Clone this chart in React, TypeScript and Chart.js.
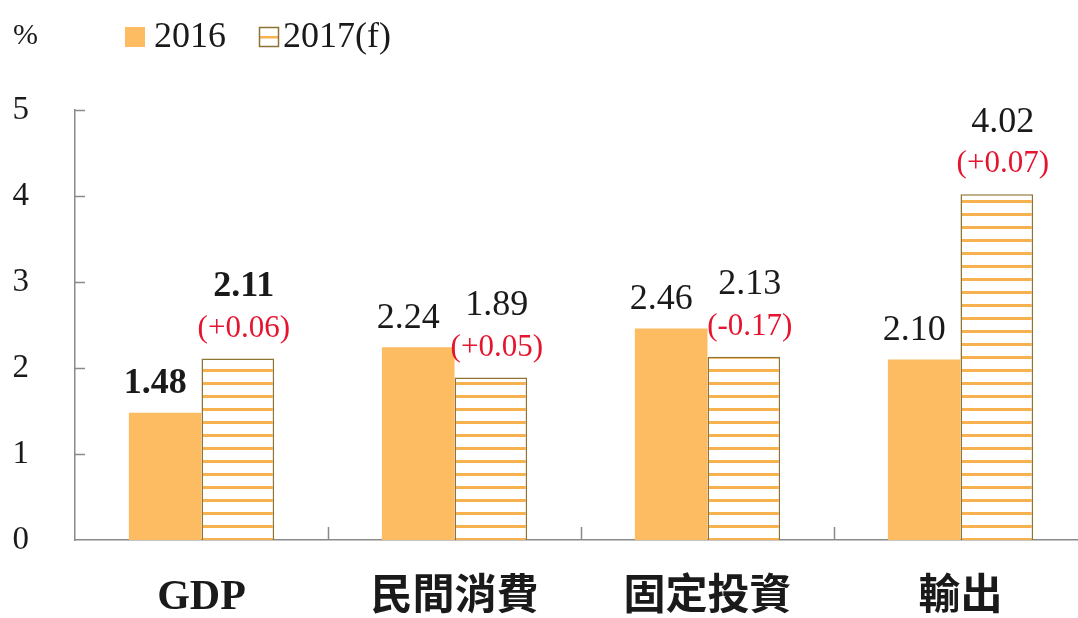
import React, { useEffect, useRef } from "react";
import { Chart, registerables } from "chart.js";
Chart.register(...registerables);

const categories = ["GDP", "民間消費", "固定投資", "輸出"];
const series2016 = [1.48, 2.24, 2.46, 2.1];
const series2017f = [2.11, 1.89, 2.13, 4.02];
const revisions2017 = ["+0.06", "+0.05", "-0.17", "+0.07"];
const seriesLabels = ["2016", "2017(f)"];
const yTicks = [0, 1, 2, 3, 4, 5];
const unitLabel = "%";
const boldCategory = "GDP";

const ORANGE = "#FDBB62";
const HATCH_LINE = "#F7B24F";
const HATCH_BORDER = "#8E7434";
const RED = "#E5142F";
const TEXT = "#1A1A1A";
const AXIS = "#8A8A8A";
const SERIF = "'Liberation Serif', 'Times New Roman', serif";

function makeHatch(ctx: CanvasRenderingContext2D) {
  const c = document.createElement("canvas");
  c.width = 8;
  c.height = 13;
  const g = c.getContext("2d")!;
  g.fillStyle = "#FFFFFF";
  g.fillRect(0, 0, 8, 13);
  g.fillStyle = HATCH_LINE;
  g.fillRect(0, 5, 8, 3);
  return ctx.createPattern(c, "repeat")!;
}

const decorPlugin = {
  id: "decor",
  afterDraw(chart: any) {
    const { ctx, chartArea, scales } = chart;
    const x = scales.x;
    const y = scales.y;
    ctx.save();
    ctx.strokeStyle = AXIS;
    ctx.lineWidth = 1.5;
    yTicks.forEach((v) => {
      if (v === 0) return;
      const py = Math.round(y.getPixelForValue(v)) + 0.5;
      ctx.beginPath();
      ctx.moveTo(chartArea.left, py);
      ctx.lineTo(chartArea.left + 10, py);
      ctx.stroke();
    });
    const step = x.getPixelForValue(1) - x.getPixelForValue(0);
    for (let i = 1; i < categories.length; i++) {
      const px = Math.round(x.getPixelForValue(i) - step / 2) + 0.5;
      ctx.beginPath();
      ctx.moveTo(px, chartArea.bottom);
      ctx.lineTo(px, chartArea.bottom - 13);
      ctx.stroke();
    }

    ctx.fillStyle = TEXT;
    ctx.font = `30px ${SERIF}`;
    ctx.textBaseline = "middle";
    ctx.textAlign = "left";
    ctx.fillText(unitLabel, 13, 36);

    const ds = chart.data.datasets;
    const boxY = 27;
    const box = 20;
    ctx.fillStyle = ORANGE;
    ctx.fillRect(125, boxY, box, box);
    ctx.fillStyle = TEXT;
    ctx.font = `36px ${SERIF}`;
    ctx.fillText(ds[0].label, 154, boxY + box / 2 + 1);
    ctx.fillStyle = "#FFFFFF";
    ctx.fillRect(259, boxY, box, box);
    ctx.fillStyle = HATCH_LINE;
    ctx.fillRect(259, boxY + box / 2 - 1, box, 2.5);
    ctx.strokeStyle = HATCH_BORDER;
    ctx.lineWidth = 1.5;
    ctx.strokeRect(259.5, boxY + 0.5, box - 1, box - 1);
    ctx.fillStyle = TEXT;
    ctx.fillText(ds[1].label, 283, boxY + box / 2 + 1);
    ctx.restore();
  },
  afterDatasetsDraw(chart: any) {
    const { ctx } = chart;
    ctx.save();
    ctx.textAlign = "center";
    ctx.textBaseline = "middle";
    const m0 = chart.getDatasetMeta(0);
    const m1 = chart.getDatasetMeta(1);
    categories.forEach((cat, i) => {
      const bold = cat === boldCategory ? "bold " : "";
      const b0 = m0.data[i];
      ctx.fillStyle = TEXT;
      ctx.font = `${bold}36px ${SERIF}`;
      ctx.fillText(series2016[i].toFixed(2), b0.x - 10, b0.y - 29);
      const b1 = m1.data[i];
      ctx.fillText(series2017f[i].toFixed(2), b1.x + 6, b1.y - 72);
      ctx.fillStyle = RED;
      ctx.font = `31px ${SERIF}`;
      ctx.fillText(`(${revisions2017[i]})`, b1.x + 6, b1.y - 30);
    });
    ctx.restore();
  },
};

export default function App() {
  const ref = useRef<HTMLCanvasElement>(null);
  useEffect(() => {
    const canvas = ref.current!;
    const ctx = canvas.getContext("2d")!;
    const hatch = makeHatch(ctx);
    const chart = new Chart(canvas, {
      type: "bar",
      data: {
        labels: categories,
        datasets: [
          {
            label: seriesLabels[0],
            data: series2016,
            backgroundColor: ORANGE,
            borderWidth: 0,
          },
          {
            label: seriesLabels[1],
            data: series2017f,
            backgroundColor: hatch,
            borderColor: HATCH_BORDER,
            borderWidth: 1.5,
          },
        ],
      },
      options: {
        animation: false,
        responsive: false,
        devicePixelRatio: 1,
        datasets: { bar: { barPercentage: 1, categoryPercentage: 0.574 } },
        layout: { padding: { top: 110, left: 0, right: 13, bottom: 0 } },
        plugins: { legend: { display: false }, tooltip: { enabled: false } },
        scales: {
          x: {
            grid: { display: false, drawTicks: false },
            border: { display: true, color: AXIS, width: 1.5 },
            ticks: {
              color: TEXT,
              padding: 33,
              font: { family: `'Liberation Serif', 'Noto Sans CJK TC', serif`, size: 42, weight: "bold" },
            },
            afterFit: (s: any) => {
              s.height = 78;
            },
          },
          y: {
            min: 0,
            max: 5,
            grid: { display: false, drawTicks: false },
            border: { display: true, color: AXIS, width: 1.5 },
            ticks: {
              stepSize: 1,
              color: TEXT,
              padding: 46,
              font: { family: SERIF, size: 33 },
            },
            afterFit: (s: any) => {
              s.width = 75;
            },
          },
        },
      },
      plugins: [decorPlugin],
    } as any);
    return () => chart.destroy();
  }, []);
  return (
    <div
      style={{
        position: "fixed",
        left: 0,
        top: 0,
        width: 1078,
        height: 618,
        overflow: "hidden",
        background: "#FFFFFF",
      }}
    >
      <canvas ref={ref} width={1100} height={618} style={{ display: "block" }} />
    </div>
  );
}
